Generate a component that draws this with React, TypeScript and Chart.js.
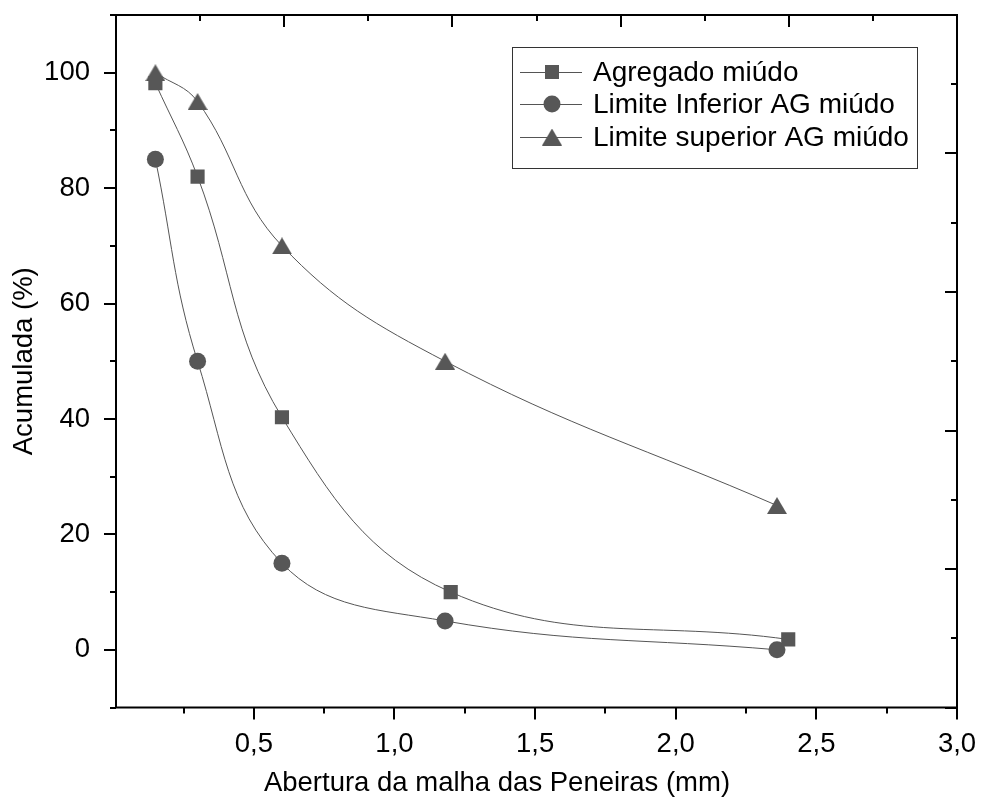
import React, { useEffect, useRef } from 'react';
import { Chart, registerables } from 'chart.js';

Chart.register(...registerables);

// ---- data ----
const seriesLabels = ['Agregado miúdo', 'Limite Inferior AG miúdo', 'Limite superior AG miúdo'];
const agregadoX = [0.15, 0.3, 0.6, 1.2, 2.4];
const agregadoY = [98.2, 82, 40.3, 10, 1.8];
const inferiorX = [0.15, 0.3, 0.6, 1.18, 2.36];
const inferiorY = [85, 50, 15, 5, 0];
const superiorX = [0.15, 0.3, 0.6, 1.18, 2.36];
const superiorY = [100, 95, 70, 50, 25];

const xMajorTicks = [0.5, 1.0, 1.5, 2.0, 2.5, 3.0];
const xMinorTicks = [0.25, 0.75, 1.25, 1.75, 2.25, 2.75];
const yMajorTicks = [0, 20, 40, 60, 80, 100];
const yMinorTicks = [-10, 10, 30, 50, 70, 90, 110];
const mirrorMajorTicks = [0, 2, 4, 6, 8, 10];
const mirrorMinorTicks = [1, 3, 5, 7, 9];

const xTitle = 'Abertura da malha das Peneiras (mm)';
const yTitle = 'Acumulada (%)';

const FONT = "'Liberation Sans', Arial, Helvetica, sans-serif";
const markerColor = '#575757';
const lineColor = '#555555';

function makeTriangle(): HTMLCanvasElement {
  const c = document.createElement('canvas');
  c.width = 20;
  c.height = 17;
  const ctx = c.getContext('2d')!;
  ctx.fillStyle = markerColor;
  ctx.beginPath();
  ctx.moveTo(10, 0);
  ctx.lineTo(20, 17);
  ctx.lineTo(0, 17);
  ctx.closePath();
  ctx.fill();
  return c;
}

const toPoints = (xs: number[], ys: number[]) => xs.map((x, i) => ({ x, y: ys[i] }));

const zeroPad = (s: any) => {
  s.paddingLeft = 0;
  s.paddingRight = 0;
  s.paddingTop = 0;
  s.paddingBottom = 0;
};

export default function App() {
  const ref = useRef<HTMLCanvasElement>(null);

  useEffect(() => {
    const tri = makeTriangle();

    const framePlugin = {
      id: 'frameTicks',
      afterDraw(chart: any) {
        const ctx = chart.ctx as CanvasRenderingContext2D;
        const { left, right, top, bottom } = chart.chartArea;
        const sx = chart.scales.x;
        const sy = chart.scales.y;
        const sx2 = chart.scales.x2;
        const sy2 = chart.scales.y2;
        const MAJ = 12;
        const MIN = 6;
        ctx.save();
        ctx.strokeStyle = '#000';
        ctx.lineWidth = 2;
        ctx.lineCap = 'butt';
        ctx.beginPath();
        const tickX = (vals: number[], len: number) => {
          vals.forEach((v) => {
            if (v < sx.min - 1e-9 || v > sx.max + 1e-9) return;
            const p = Math.round(sx.getPixelForValue(v));
            ctx.moveTo(p, bottom);
            ctx.lineTo(p, bottom + len);
          });
        };
        const tickY = (vals: number[], len: number) => {
          vals.forEach((v) => {
            if (v < sy.min - 1e-9 || v > sy.max + 1e-9) return;
            const p = Math.round(sy.getPixelForValue(v));
            ctx.moveTo(left, p);
            ctx.lineTo(left - len, p);
          });
        };
        const tickX2 = (vals: number[], len: number) => {
          vals.forEach((v) => {
            const p = Math.round(sx2.getPixelForValue(v));
            ctx.moveTo(p, top);
            ctx.lineTo(p, top + len);
          });
        };
        const tickY2 = (vals: number[], len: number) => {
          vals.forEach((v) => {
            const p = Math.round(sy2.getPixelForValue(v));
            ctx.moveTo(right, p);
            ctx.lineTo(right - len, p);
          });
        };
        tickX(xMajorTicks, MAJ);
        tickX(xMinorTicks, MIN);
        tickY(yMajorTicks, MAJ);
        tickY(yMinorTicks, MIN);
        tickX2(mirrorMajorTicks, MAJ);
        tickX2(mirrorMinorTicks, MIN);
        tickY2(mirrorMajorTicks, MAJ);
        tickY2(mirrorMinorTicks, MIN);
        ctx.stroke();
        ctx.strokeRect(left, top, right - left, bottom - top);
        ctx.restore();

        // x axis title
        ctx.save();
        ctx.fillStyle = '#000';
        ctx.font = `27.5px ${FONT}`;
        ctx.textAlign = 'center';
        ctx.textBaseline = 'middle';
        ctx.fillText(xTitle, 497, 783);
        ctx.restore();

        // legend
        const bx = 512.5, by = 47.5, bw = 405, bh = 121;
        ctx.save();
        ctx.strokeStyle = '#333';
        ctx.lineWidth = 1;
        ctx.strokeRect(bx, by, bw, bh);
        const rows = [72, 104, 137];
        chart.data.datasets.forEach((ds: any, i: number) => {
          const y = rows[i];
          ctx.strokeStyle = lineColor;
          ctx.lineWidth = 1;
          ctx.beginPath();
          ctx.moveTo(520, y + 0.5);
          ctx.lineTo(582, y + 0.5);
          ctx.stroke();
          ctx.fillStyle = markerColor;
          const mx = 552;
          if (ds.pointStyle === 'rect') {
            ctx.fillRect(mx - 7, y - 7, 14, 14);
          } else if (ds.pointStyle === 'circle') {
            ctx.beginPath();
            ctx.arc(mx, y, 8.5, 0, Math.PI * 2);
            ctx.fill();
          } else {
            ctx.drawImage(tri, mx - 10, y - 8.5);
          }
          ctx.fillStyle = '#000';
          ctx.font = `28px ${FONT}`;
          ctx.textBaseline = 'middle';
          ctx.textAlign = 'left';
          ctx.fillText(ds.label, 593, y + 1);
        });
        ctx.restore();
      },
    };

    const tickFont = { family: FONT, size: 27.5 };
    const chart = new Chart(ref.current!, {
      type: 'line',
      data: {
        datasets: [
          {
            label: seriesLabels[0],
            data: toPoints(agregadoX, agregadoY),
            borderColor: lineColor,
            borderWidth: 1,
            backgroundColor: markerColor,
            pointBackgroundColor: markerColor,
            pointBorderWidth: 0,
            pointStyle: 'rect',
            pointRadius: 10,
            tension: 0.4,
          },
          {
            label: seriesLabels[1],
            data: toPoints(inferiorX, inferiorY),
            borderColor: lineColor,
            borderWidth: 1,
            backgroundColor: markerColor,
            pointBackgroundColor: markerColor,
            pointBorderWidth: 0,
            pointStyle: 'circle',
            pointRadius: 8.5,
            tension: 0.4,
          },
          {
            label: seriesLabels[2],
            data: toPoints(superiorX, superiorY),
            borderColor: lineColor,
            borderWidth: 1,
            backgroundColor: markerColor,
            pointBackgroundColor: markerColor,
            pointBorderWidth: 0,
            pointStyle: tri as any,
            pointRadius: 10,
            tension: 0.4,
          },
        ],
      },
      options: {
        responsive: false,
        devicePixelRatio: 1,
        animation: false,
        layout: { padding: { top: 15, right: 24, left: 0, bottom: 0 } },
        plugins: {
          legend: { display: false },
          tooltip: { enabled: false },
        },
        scales: {
          x: {
            type: 'linear',
            position: 'bottom',
            min: 0.01,
            max: 3.0,
            afterBuildTicks: (s: any) => {
              s.ticks = xMajorTicks.map((v) => ({ value: v }));
            },
            afterFit: (s: any) => {
              s.height = 102.5;
              zeroPad(s);
            },
            grid: { display: false, drawTicks: false },
            border: { display: false },
            ticks: {
              autoSkip: false,
              maxRotation: 0,
              color: '#000',
              font: tickFont,
              padding: 20,
              callback: (v: any) => Number(v).toFixed(1).replace('.', ','),
            },
            title: { display: false },
          },
          y: {
            type: 'linear',
            position: 'left',
            min: -10,
            max: 110,
            afterBuildTicks: (s: any) => {
              s.ticks = yMajorTicks.map((v) => ({ value: v }));
            },
            afterFit: (s: any) => {
              s.width = 116;
              zeroPad(s);
            },
            grid: { display: false, drawTicks: false },
            border: { display: false },
            ticks: {
              autoSkip: false,
              color: '#000',
              font: tickFont,
              padding: 26,
              callback: (v: any) => String(v),
            },
            title: {
              display: true,
              text: yTitle,
              color: '#000',
              font: tickFont,
              padding: { top: 8, bottom: 0 },
            },
          },
          x2: { type: 'linear', position: 'top', min: 0, max: 10, display: false },
          y2: { type: 'linear', position: 'right', min: 0, max: 10, display: false },
        },
      } as any,
      plugins: [framePlugin],
    });
    return () => chart.destroy();
  }, []);

  return (
    <div style={{ position: 'fixed', left: 0, top: 0, width: 981, height: 810, background: '#fff' }}>
      <canvas ref={ref} width={981} height={810} style={{ display: 'block', width: 981, height: 810 }} />
    </div>
  );
}
